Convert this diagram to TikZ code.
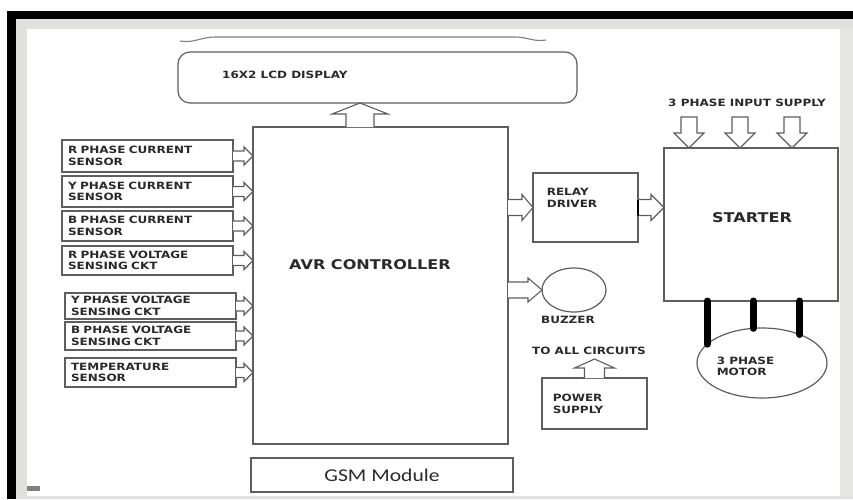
\documentclass[tikz,border=0pt]{standalone}
\usepackage{fontspec}
\usetikzlibrary{calc,shapes.geometric}
\newfontfamily\lbl{DejaVu Sans}[FakeStretch=1.2]
\newfontfamily\gsmfont{Carlito}[FakeStretch=1.2]
\definecolor{edge}{HTML}{5E5E5E}
\definecolor{framegray}{HTML}{E0E0DE}
\definecolor{inkc}{HTML}{2A2A2A}
% hollow block arrows: #1 tail, #2 tip, #3 stem half width, #4 head half width, #5 head length
\newcommand\blkR[5]{\draw[barrow] let \p1=#1, \p2=#2 in
  (\x1,\y1+#3) -- (\x2-#5,\y1+#3) -- (\x2-#5,\y1+#4) -- (\x2,\y1) -- (\x2-#5,\y1-#4) -- (\x2-#5,\y1-#3) -- (\x1,\y1-#3);}
\newcommand\blkU[5]{\draw[barrow] let \p1=#1, \p2=#2 in
  (\x1-#3,\y1) -- (\x1-#3,\y2-#5) -- (\x1-#4,\y2-#5) -- (\x1,\y2) -- (\x1+#4,\y2-#5) -- (\x1+#3,\y2-#5) -- (\x1+#3,\y1);}
\newcommand\blkD[5]{\draw[barrow] let \p1=#1, \p2=#2 in
  (\x1-#3,\y1) -- (\x1-#3,\y2+#5) -- (\x1-#4,\y2+#5) -- (\x1,\y2) -- (\x1+#4,\y2+#5) -- (\x1+#3,\y2+#5) -- (\x1+#3,\y1) -- cycle;}
\tikzset{
  box/.style={draw=edge, line width=1.2pt, inner sep=0pt, outer sep=0pt, rectangle},
  sensor/.style={box, minimum width=171pt, text width=159pt, inner xsep=6pt, align=left,
     font=\lbl\bfseries\fontsize{10}{11.5}\selectfont, text=inkc},
  lab/.style={inner sep=0pt, font=\lbl\bfseries\fontsize{10}{11.5}\selectfont, text=inkc, align=left},
  biglab/.style={inner sep=0pt, font=\lbl\bfseries\fontsize{13.4}{15}\selectfont, text=inkc},
  barrow/.style={draw=edge, line width=1.1pt, line join=miter, fill=white},
  bar/.style={line width=7pt, line cap=round, draw=black}
}
\begin{document}
\begin{tikzpicture}[x=1pt, y=-1pt]
\useasboundingbox (0,0) rectangle (853,499);
% screenshot frame
\fill[white] (0,0) rectangle (853,499);
\fill[black] (7,11) rectangle (853,19);
\fill[black] (7,11) rectangle (16,499);
\fill[framegray] (16,19) rectangle (853,29);
\fill[framegray] (16,19) rectangle (27,499);
\fill[framegray!85] (840,29) rectangle (853,499);
\fill[framegray] (27,496) rectangle (853,499);
\fill[gray] (27,486) rectangle (40,491);

% LCD
\draw[edge!80, line width=1.1pt] (180,41) to[out=-10,in=180] (215,37) -- (515,37) to[out=0,in=190] (546,40);
\node[box, rounded corners=12pt, minimum width=399pt, minimum height=51pt] (lcd) at (377.5,77.5) {};
\node[lab, anchor=west] (lcdtxt) at (222,75) {16X2 LCD DISPLAY};

% AVR
\node[box, minimum width=255pt, minimum height=317pt] (avr) at (380.5,285.5) {};
\node[biglab] (avrtxt) at (370,265) {AVR CONTROLLER};
\node[box, minimum width=262pt, minimum height=34pt, font=\gsmfont\fontsize{18}{20}\selectfont, text=inkc] (gsm) at (382,475) {GSM Module};

% sensors
\node[sensor, minimum height=32pt] (s1) at (147.5,156) {R PHASE CURRENT\\SENSOR};
\node[sensor, minimum height=31pt] (s2) at (147.5,191.5) {Y PHASE CURRENT\\SENSOR};
\node[sensor, minimum height=30pt] (s3) at (147.5,226) {B PHASE CURRENT\\SENSOR};
\node[sensor, minimum height=29pt] (s4) at (147.5,260.5) {R PHASE VOLTAGE\\SENSING CKT};
\node[sensor, minimum height=26pt] (s5) at (150.5,306) {Y PHASE VOLTAGE\\SENSING CKT};
\node[sensor, minimum height=28pt] (s6) at (150.5,336) {B PHASE VOLTAGE\\SENSING CKT};
\node[sensor, minimum height=29pt] (s7) at (150.5,372.5) {TEMPERATURE\\SENSOR};
\foreach \s in {s1,s2,s3,s4,s5,s6,s7}{
  \blkR{(\s.east)}{(avr.west |- \s.east)}{5pt}{9pt}{9pt}
}

% AVR -> LCD
\coordinate (lcdin) at (360,103);
\blkU{(avr.north -| lcdin)}{(lcdin)}{14pt}{28pt}{11pt}

% relay & starter
\node[box, minimum width=105pt, minimum height=69pt] (relay) at (585.5,207.5) {};
\node[lab] (relaytxt) at (572,198) {RELAY\\DRIVER};
\node[box, minimum width=174pt, minimum height=153pt] (starter) at (751,224.5) {};
\node[biglab] (startertxt) at (752,218) {STARTER};
\blkR{(avr.east |- relay.west)}{(relay.west)}{8pt}{13pt}{11pt}
\blkR{(relay.east)}{(starter.west |- relay.east)}{8pt}{13pt}{13pt}
\draw[black, line width=2pt] ([yshift=-8pt]relay.east) -- ([yshift=8pt]relay.east);

% 3 phase input supply
\node[lab] (supplytxt) at (747,103) {3 PHASE INPUT SUPPLY};
\coordinate (in1) at (689,117);
\coordinate (in2) at (740,117);
\coordinate (in3) at (792,117);
\foreach \c in {in1,in2,in3}{
  \blkD{(\c)}{(starter.north -| \c)}{8pt}{15pt}{15pt}
}

% buzzer
\node[draw=edge, line width=1.2pt, ellipse, minimum width=64pt, minimum height=44pt, inner sep=0pt, outer sep=0pt] (buzzer) at (574,290) {};
\node[lab] (buzztxt) at (568,320) {BUZZER};
\blkR{(avr.east |- buzzer.west)}{(buzzer.west)}{8pt}{12pt}{14pt}

% power supply
\node[lab] (toall) at (589,351) {TO ALL CIRCUITS};
\node[box, minimum width=105pt, minimum height=51pt] (ps) at (594.5,403.5) {};
\node[lab] (pstxt) at (578,404) {POWER\\SUPPLY};
\coordinate (psout) at (595,359);
\blkU{(ps.north)}{(psout)}{10pt}{20pt}{9pt}

% motor
\node[draw=edge, line width=1.2pt, ellipse, minimum width=130pt, minimum height=70pt, inner sep=0pt, outer sep=0pt] (motor) at (762,363) {};
\node[lab] (motortxt) at (745.5,366.5) {3 PHASE\\MOTOR};
\foreach \a in {161.3,104.6,37.9}{
  \draw[bar] (starter.south -| motor.\a) -- (motor.\a);
}
\end{tikzpicture}
\end{document}
